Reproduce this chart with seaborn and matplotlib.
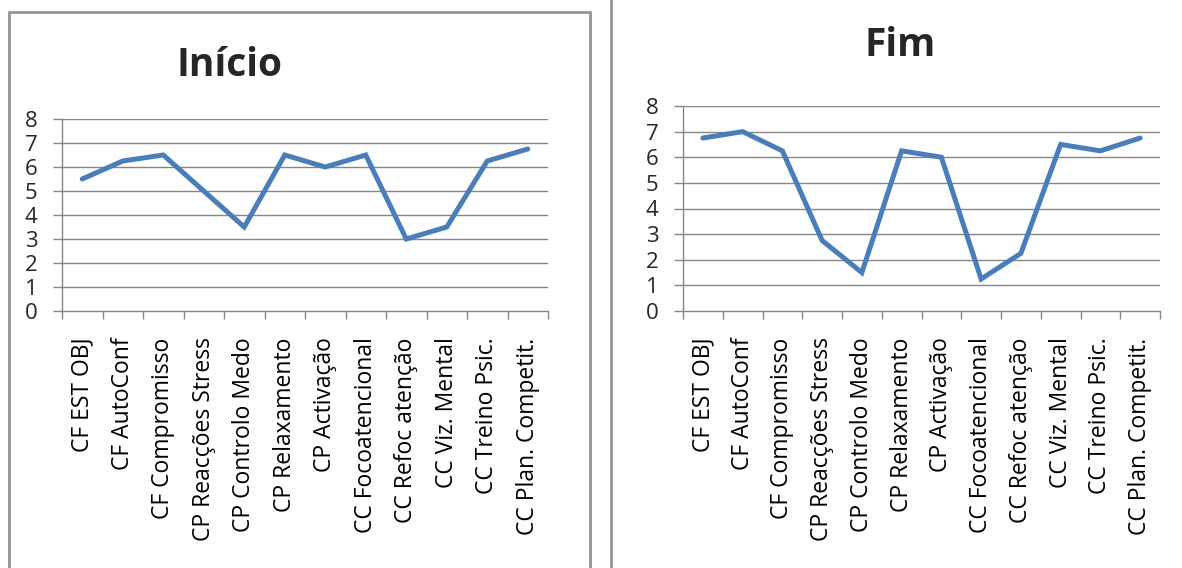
import matplotlib
matplotlib.use("Agg")
import matplotlib.pyplot as plt
from matplotlib.patches import Rectangle
import seaborn as sns
import pandas as pd

categories = [
    "CF EST OBJ", "CF AutoConf", "CF Compromisso", "CP Reacções Stress",
    "CP Controlo Medo", "CP Relaxamento", "CP Activação", "CC Focoatencional",
    "CC Refoc atenção", "CC Viz. Mental", "CC Treino Psic.", "CC Plan. Competit.",
]
inicio = [5.5, 6.25, 6.5, 5.0, 3.5, 6.5, 6.0, 6.5, 3.0, 3.5, 6.25, 6.75]
fim = [6.75, 7.0, 6.25, 2.75, 1.5, 6.25, 6.0, 1.25, 2.25, 6.5, 6.25, 6.75]
titles = ["Início", "Fim"]
y_ticks = list(range(0, 9))

sns.set_theme(style="white")
plt.rcParams["font.family"] = ["Open Sans", "DejaVu Sans"]

LINE = "#4A7EBB"
GRID = "#868686"
W, H = 1182, 568

fig = plt.figure(figsize=(W / 100, H / 100), dpi=100)
fig.patch.set_facecolor("white")

# outer chart frames (Excel chart area borders)
fig.patches.append(Rectangle((9 / W, -0.05), (590 - 9) / W, 1.05 - 12 / H,
                             transform=fig.transFigure, fill=False,
                             edgecolor="#959595", linewidth=2))
fig.patches.append(Rectangle((611 / W, -0.05), 0.5, 1.2,
                             transform=fig.transFigure, fill=False,
                             edgecolor="#959595", linewidth=2))


def px_axes(x0, x1, y_top, y_bot):
    return fig.add_axes([x0 / W, 1 - y_bot / H, (x1 - x0) / W, (y_bot - y_top) / H])


panels = [
    (px_axes(62, 548, 119, 311), inicio, (230, 65)),
    (px_axes(683, 1160, 106, 311), fim, (900, 45)),
]

for (ax, vals, tpos), title in zip(panels, titles):
    df = pd.DataFrame({"cat": categories, "val": vals})
    sns.lineplot(data=df, x="cat", y="val", ax=ax, color=LINE, linewidth=3.6,
                 sort=False, solid_joinstyle="miter")
    ax.set_xlim(-0.5, len(categories) - 0.5)
    ax.set_ylim(0, 8)
    ax.set_yticks(y_ticks)
    ax.set_xlabel("")
    ax.set_ylabel("")
    for y in y_ticks[1:]:
        ax.axhline(y, color=GRID, linewidth=1, zorder=0)
    for s in ["top", "right"]:
        ax.spines[s].set_visible(False)
    ax.spines["left"].set_color(GRID)
    ax.spines["bottom"].set_color(GRID)
    ax.spines["left"].set_linewidth(1)
    ax.spines["bottom"].set_linewidth(1)

    ax.set_xticks(range(len(categories)))
    ax.set_xticklabels(categories, rotation=90, fontsize=16.5, color="#000000")
    ax.set_xticks([i - 0.5 for i in range(len(categories) + 1)], minor=True)
    ax.tick_params(axis="x", which="major", length=0, pad=19)
    ax.tick_params(axis="x", which="minor", length=6, width=1, color=GRID,
                   direction="out", bottom=True)
    ax.tick_params(axis="y", length=6.5, width=1, color=GRID, direction="out",
                   left=True, labelsize=16, pad=11)
    ax.set_facecolor("white")

    fig.text(tpos[0] / W, 1 - tpos[1] / H, title, ha="center", va="center",
             fontsize=28, fontweight="bold")

fig.savefig("out.png", dpi=100, facecolor="white")
